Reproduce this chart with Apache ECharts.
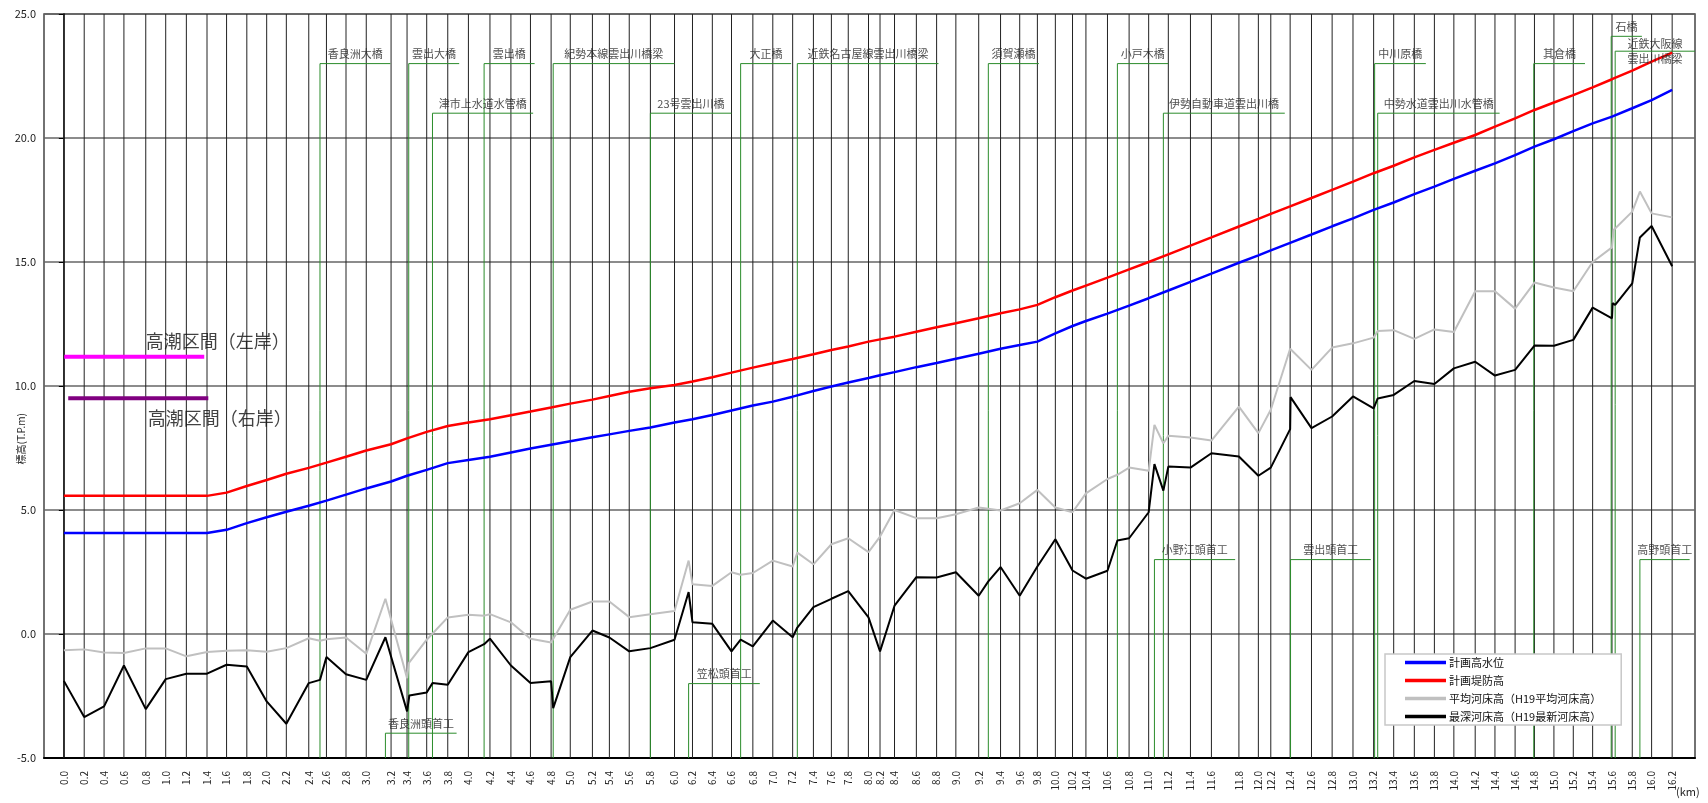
<!DOCTYPE html>
<html><head><meta charset="utf-8">
<script src="https://cdn.jsdelivr.net/npm/echarts@6/dist/echarts.min.js"></script>
<style>html,body{margin:0;padding:0;background:#fff}#c{width:1708px;height:803px}</style>
</head><body><div id="c"></div>
<script>
// ---- nominal km labels and their drawn positions (km) ----
const kmLabels = ['0.0','0.2','0.4','0.6','0.8','1.0','1.2','1.4','1.6','1.8','2.0','2.2','2.4','2.6','2.8','3.0','3.2','3.4','3.6','3.8','4.0','4.2','4.4','4.6','4.8','5.0','5.2','5.4','5.6','5.8','6.0','6.2','6.4','6.6','6.8','7.0','7.2','7.4','7.6','7.8','8.0','8.2','8.4','8.6','8.8','9.0','9.2','9.4','9.6','9.8','10.0','10.2','10.4','10.6','10.8','11.0','11.2','11.4','11.6','11.8','12.0','12.2','12.4','12.6','12.8','13.0','13.2','13.4','13.6','13.8','14.0','14.2','14.4','14.6','14.8','15.0','15.2','15.4','15.6','15.8','16.0','16.2'];
const kmPos = [0.000,0.205,0.405,0.605,0.825,1.026,1.234,1.442,
  1.639,1.843,2.043,2.241,2.467,2.645,2.842,3.046,3.296,3.457,3.655,3.867,
  4.075,4.292,4.503,4.700,4.908,5.101,5.324,5.495,5.695,5.908,
  6.151,6.332,6.532,6.725,6.940,7.141,7.341,7.550,7.731,7.901,
  8.105,8.221,8.367,8.587,8.791,8.985,9.215,9.435,9.628,9.806,
  9.987,10.160,10.295,10.512,10.730,10.927,11.125,11.348,11.559,11.836,
  12.032,12.157,12.352,12.567,12.775,12.985,13.193,13.395,13.603,13.805,
  14.001,14.216,14.415,14.618,14.813,15.009,15.204,15.399,15.594,15.798,
  15.993,16.200];

// ---- 計画高水位 (blue) ----
const planHighWater = [4.07,4.07,4.07,4.07,4.07,4.07,4.07,4.07,
  4.20,4.47,4.71,4.93,5.17,5.38,5.62,5.87,6.15,6.38,6.62,6.89,
  7.02,7.15,7.32,7.48,7.63,7.77,7.93,8.05,8.19,8.33,
  8.53,8.66,8.83,9.01,9.21,9.37,9.57,9.80,9.98,10.14,
  10.32,10.43,10.56,10.76,10.93,11.10,11.30,11.50,11.65,11.79,
  12.12,12.42,12.62,12.92,13.24,13.54,13.85,14.20,14.53,14.97,
  15.27,15.47,15.77,16.11,16.44,16.76,17.10,17.40,17.74,18.04,
  18.35,18.68,18.98,19.31,19.65,19.95,20.28,20.59,20.86,21.20,
  21.53,21.94];
// ---- 計画堤防高 (red) ----
const planLevee = [5.57,5.57,5.57,5.57,5.57,5.57,5.57,5.57,
  5.70,5.97,6.21,6.46,6.70,6.91,7.15,7.40,7.65,7.89,8.15,8.39,
  8.53,8.66,8.82,8.97,9.13,9.29,9.45,9.60,9.77,9.91,
  10.04,10.18,10.35,10.54,10.74,10.92,11.09,11.28,11.45,11.59,
  11.79,11.88,11.99,12.19,12.37,12.53,12.73,12.93,13.09,13.27,
  13.58,13.85,14.05,14.37,14.70,15.00,15.31,15.66,15.99,16.43,
  16.74,16.94,17.24,17.58,17.91,18.24,18.58,18.88,19.22,19.52,
  19.81,20.12,20.46,20.79,21.13,21.43,21.73,22.04,22.37,22.72,
  23.08,23.44];

// ---- 平均河床高 (gray) ----
const avgBedKm = [0.000,0.205,0.405,0.605,0.825,1.026,1.234,1.442,1.639,1.843,2.043,2.241,2.467,2.580,2.645,2.842,3.046,3.239,3.457,3.474,3.655,3.867,4.075,4.233,4.292,4.503,4.700,4.908,
  5.101,5.324,5.495,5.695,5.908,6.151,6.293,6.332,6.532,6.725,6.817,6.940,7.141,7.341,7.388,7.550,7.731,7.901,8.105,8.221,8.367,8.587,8.791,8.985,9.215,9.312,9.435,9.628,9.806,
  9.987,10.160,10.295,10.512,10.612,10.730,10.927,10.985,11.075,11.125,11.348,11.559,11.836,12.032,12.157,12.352,12.567,12.775,12.985,13.193,13.234,13.395,13.603,13.805,
  14.001,14.216,14.415,14.618,14.813,15.009,15.204,15.399,15.594,15.610,15.798,15.875,15.993,16.200];
const avgBedVal = [-0.66,-0.62,-0.75,-0.77,-0.58,-0.58,-0.90,-0.73,-0.68,-0.66,-0.72,-0.57,-0.17,-0.27,-0.21,-0.14,-0.80,1.42,-1.78,-1.17,-0.23,0.67,0.78,0.74,0.80,0.47,-0.19,-0.34,
  0.98,1.31,1.31,0.68,0.80,0.93,2.96,2.01,1.94,2.49,2.39,2.46,2.96,2.72,3.28,2.81,3.62,3.86,3.30,3.93,5.00,4.67,4.67,4.83,5.10,5.05,4.98,5.27,5.81,
  5.10,4.91,5.67,6.25,6.42,6.71,6.58,8.43,7.69,7.99,7.92,7.80,9.17,8.10,9.04,11.50,10.65,11.55,11.72,11.95,12.22,12.25,11.90,12.28,
  12.18,13.82,13.82,13.12,14.17,13.97,13.82,15.00,15.59,16.29,17.03,17.84,16.96,16.80];

// ---- 最深河床高 (black) ----
const deepBedKm = [0.000,0.205,0.405,0.605,0.825,1.026,1.234,1.442,1.639,1.843,2.043,2.241,2.467,2.580,2.645,2.842,3.046,3.239,3.457,3.480,3.655,3.713,3.867,4.075,4.233,4.292,4.503,4.700,4.908,4.929,
  5.101,5.324,5.495,5.695,5.908,6.151,6.293,6.332,6.532,6.725,6.817,6.940,7.141,7.341,7.388,7.550,7.731,7.901,8.105,8.221,8.367,8.587,8.791,8.985,9.215,9.312,9.435,9.628,9.806,
  9.987,10.160,10.295,10.512,10.612,10.730,10.927,10.985,11.075,11.125,11.348,11.559,11.836,12.032,12.157,12.352,12.356,12.567,12.775,12.985,13.193,13.234,13.395,13.603,13.805,
  14.001,14.216,14.415,14.618,14.813,15.009,15.204,15.399,15.594,15.600,15.626,15.798,15.875,15.993,16.200];
const deepBedVal = [-1.89,-3.35,-2.92,-1.27,-3.03,-1.82,-1.60,-1.60,-1.24,-1.31,-2.72,-3.62,-1.98,-1.85,-0.93,-1.62,-1.85,-0.13,-3.12,-2.48,-2.36,-1.98,-2.05,-0.73,-0.41,-0.19,-1.27,-1.98,-1.91,-2.99,
  -0.93,0.14,-0.14,-0.70,-0.57,-0.23,1.69,0.47,0.41,-0.70,-0.23,-0.50,0.54,-0.13,0.26,1.08,1.42,1.73,0.67,-0.70,1.14,2.29,2.28,2.49,1.54,2.12,2.70,1.54,2.72,
  3.82,2.56,2.23,2.55,3.77,3.86,4.91,6.85,5.78,6.75,6.71,7.29,7.16,6.38,6.71,8.26,9.55,8.30,8.77,9.58,9.10,9.50,9.64,10.20,10.08,
  10.71,10.98,10.42,10.65,11.63,11.62,11.86,13.16,12.73,13.34,13.27,14.14,15.99,16.45,14.83];

// ---- bridges (橋) ----
const bridgeNames = ['香良洲大橋','雲出大橋','津市上水道水管橋','雲出橋','紀勢本線雲出川橋梁','23号雲出川橋','大正橋','近鉄名古屋線雲出川橋梁','須賀瀬橋','小戸木橋','伊勢自動車道雲出川橋','中川原橋','中勢水道雲出川水管橋','其倉橋','石橋','近鉄大阪線\n雲出川橋梁'];
const bridgeKm    = [2.580,3.474,3.713,4.233,4.929,5.908,6.817,7.388,9.312,10.612,11.075,13.203,13.234,14.806,15.586,15.626];
const bridgeEndKm = [3.289,3.982,4.727,4.742,6.151,6.725,7.326,8.810,9.821,11.125,12.298,13.719,14.462,15.322,15.895,16.430];
const bridgeLevel = [23,23,21,23,23,21,23,23,23,23,21,23,21,23,24.1,23.5];
// ---- weirs (頭首工) ----
const weirNames = ['香良洲頭首工','笠松頭首工','小野江頭首工','雲出頭首工','高野頭首工'];
const weirKm    = [3.239,6.293,10.985,12.356,15.875];
const weirEndKm = [3.956,7.010,11.798,13.164,16.376];
const weirLevel = [-4,-2,3,3,3];
// ---- 高潮区間 ----
const tideNames = ['高潮区間（左岸）','高潮区間（右岸）'];
const tideStartKm = [0.004,0.044];
const tideEndKm = [1.414,1.455];
const tideLevel = [11.18,9.51];
const tideLabelKm = [1.55,1.57];
const tideLabelLevel = [11.79,8.70];

const seriesNames = ['計画高水位','計画堤防高','平均河床高（H19平均河床高）','最深河床高（H19最新河床高）'];
const Y_MIN = -5, Y_MAX = 25, Y_STEP = 5;
const X_MIN = -0.2, X_MAX = 16.43;

const FONT = '"Noto Sans CJK JP", "Noto Sans", sans-serif';
const chart = echarts.init(document.getElementById('c'), null, {renderer: 'canvas'});

const labelFor = v => {
  let best = 0, bd = 1e9;
  kmPos.forEach((p, i) => { const d = Math.abs(p - v); if (d < bd) { bd = d; best = i; } });
  return kmLabels[best];
};

const series = [];
// vertical grid lines at every section
series.push({
  type: 'custom', silent: true, z: 1,
  data: kmPos.map(v => [v, Y_MIN]),
  encode: {x: 0, y: 1},
  renderItem: (params, api) => {
    const x = api.value(0);
    const a = api.coord([x, Y_MIN]), b = api.coord([x, Y_MAX]);
    return {type: 'line', shape: {x1: a[0], y1: a[1], x2: b[0], y2: b[1]}, style: {stroke: '#222', lineWidth: 1}};
  }
});
// bridges & weirs
const structures = bridgeNames.map((n, i) => ({name: n, s: bridgeKm[i], e: bridgeEndKm[i], lv: bridgeLevel[i]}))
  .concat(weirNames.map((n, i) => ({name: n, s: weirKm[i], e: weirEndKm[i], lv: weirLevel[i]})));
structures.forEach(st => {
  series.push({
    type: 'line', silent: true, z: 2, symbol: 'none', animation: false,
    data: [[st.s, Y_MIN], [st.s, st.lv], [st.e, st.lv]],
    lineStyle: {color: '#2b8c2b', width: 1}
  });
});
series.push({
  type: 'scatter', silent: true, z: 6, symbolSize: 0,
  data: structures.map(st => ({
    value: [(st.s + st.e) / 2, st.lv],
    name: st.name,
    label: st.name.indexOf('\n') >= 0 ? {position: 'inside', lineHeight: 15} : {position: 'top', distance: 4}
  })),
  label: {show: true, formatter: p => p.name, color: '#222', fontSize: 11, fontFamily: FONT}
});
// 高潮区間 lines
const tideColors = ['#ff00ff', '#800080'];
tideNames.forEach((n, i) => {
  series.push({
    type: 'line', silent: true, z: 4, symbol: 'none',
    data: [[tideStartKm[i], tideLevel[i]], [tideEndKm[i], tideLevel[i]]],
    lineStyle: {color: tideColors[i], width: 4}
  });
});
series.push({
  type: 'scatter', silent: true, z: 6, symbolSize: 0,
  data: tideNames.map((n, i) => ({value: [tideLabelKm[i], tideLabelLevel[i]], name: n})),
  label: {show: true, position: 'inside', formatter: p => p.name, color: '#111', fontSize: 18, fontFamily: FONT}
});
// main series
series.push({
  name: seriesNames[2], type: 'line', symbol: 'none', z: 3,
  data: avgBedKm.map((x, i) => [x, avgBedVal[i]]),
  lineStyle: {color: '#c0c0c0', width: 2}, itemStyle: {color: '#c0c0c0'}
});
series.push({
  name: seriesNames[3], type: 'line', symbol: 'none', z: 3,
  data: deepBedKm.map((x, i) => [x, deepBedVal[i]]),
  lineStyle: {color: '#000', width: 2}, itemStyle: {color: '#000'}
});
series.push({
  name: seriesNames[0], type: 'line', symbol: 'none', z: 3,
  data: kmPos.map((x, i) => [x, planHighWater[i]]),
  lineStyle: {color: '#0000ff', width: 2.5}, itemStyle: {color: '#0000ff'}
});
series.push({
  name: seriesNames[1], type: 'line', symbol: 'none', z: 3,
  data: kmPos.map((x, i) => [x, planLevee[i]]),
  lineStyle: {color: '#ff0000', width: 2.5}, itemStyle: {color: '#ff0000'}
});

chart.setOption({
  animation: false,
  backgroundColor: '#fff',
  textStyle: {fontFamily: FONT},
  grid: {left: 44, right: 13, top: 14, bottom: 45, show: true, borderColor: '#444', borderWidth: 1.5, containLabel: false},
  legend: {
    data: seriesNames, orient: 'vertical', left: 1385, top: 654,
    padding: [3, 20, 3, 20], itemWidth: 41, itemHeight: 14, itemGap: 7,
    backgroundColor: '#fff', borderColor: '#c8c8c8', borderWidth: 1.5, borderRadius: 0,
    textStyle: {fontSize: 11, color: '#111', fontFamily: FONT, padding: [0, 0, 0, -2]},
    icon: 'path://M0,0 L100,0 L100,8 L0,8 Z'
  },
  xAxis: {
    type: 'value', min: X_MIN, max: X_MAX,
    axisLine: {show: true, onZero: false, lineStyle: {color: '#000', width: 2}},
    axisTick: {show: false},
    splitLine: {show: false},
    axisLabel: {customValues: kmPos, formatter: v => labelFor(v), rotate: 90, margin: 13, fontSize: 10, color: '#222', fontFamily: FONT}
  },
  yAxis: {
    type: 'value', min: Y_MIN, max: Y_MAX, interval: Y_STEP,
    axisLine: {show: true, lineStyle: {color: '#000', width: 1.5}},
    axisTick: {show: true, length: 5, lineStyle: {color: '#000'}},
    splitLine: {show: true, lineStyle: {color: '#666', width: 1.5}},
    axisLabel: {formatter: v => v.toFixed(1), fontSize: 11, color: '#222', margin: 8, fontFamily: FONT}
  },
  graphic: [
    {type: 'text', left: 16, top: 413, rotation: Math.PI / 2, style: {text: '標高(T.P.m)', fontSize: 10, fill: '#222', fontFamily: FONT}},
    {type: 'text', left: 1676, top: 786, style: {text: '(km)', fontSize: 11, fill: '#222', fontFamily: FONT}}
  ],
  series: series
});
</script>
</body></html>
